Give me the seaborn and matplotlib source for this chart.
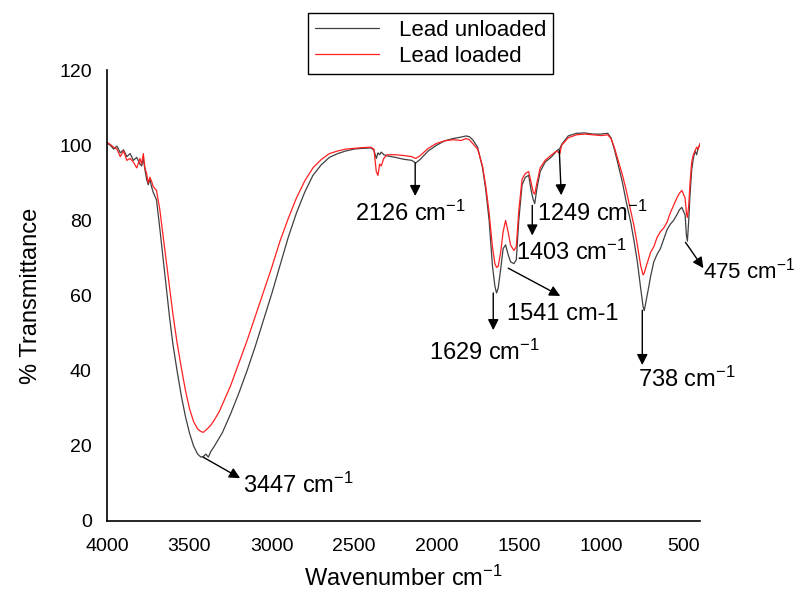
import numpy as np
import pandas as pd
import matplotlib
matplotlib.use("Agg")
import matplotlib.pyplot as plt
import seaborn as sns

# FTIR spectra (wavenumber in cm-1, % transmittance)
wavenumber = [
    4000, 3980, 3960, 3940, 3920, 3900, 3880, 3860, 3840, 3820, 3800, 3790, 3780, 3770,
    3760, 3750, 3740, 3730, 3720, 3700, 3680, 3660, 3640, 3620, 3600, 3575, 3550, 3525,
    3500, 3475, 3450, 3430, 3415, 3400, 3385, 3370, 3350, 3320, 3300, 3250, 3200, 3150,
    3100, 3050, 3000, 2950, 2900, 2850, 2800, 2750, 2700, 2650, 2600, 2550, 2500, 2450,
    2400, 2380, 2365, 2355, 2345, 2335, 2320, 2300, 2250, 2200, 2150, 2126, 2100, 2050,
    2000, 1950, 1900, 1850, 1820, 1800, 1780, 1750, 1720, 1700, 1680, 1660, 1645, 1635,
    1625, 1610, 1595, 1580, 1565, 1550, 1530, 1515, 1500, 1480, 1460, 1440, 1425, 1412,
    1403, 1390, 1370, 1340, 1300, 1270, 1250, 1240, 1200, 1150, 1100, 1050, 1000, 960,
    940, 920, 900, 870, 850, 820, 800, 780, 760, 745, 738, 725, 710, 700, 680, 660,
    640, 620, 600, 580, 560, 540, 525, 510, 500, 490, 482, 476, 468, 460, 450, 440,
    430, 420, 410, 400,
]
lead_unloaded = [
    100.6, 100.0, 99.0, 99.8, 98.0, 98.8, 97.0, 97.8, 96.0, 96.8, 95.0, 94.5, 96.5, 93.5,
    91.0, 89.5, 91.0, 89.0, 87.5, 85.5, 78.0, 70.0, 62.0, 54.0, 47.0, 40.0, 33.5, 28.0,
    23.5, 20.0, 17.8, 17.0, 17.2, 17.8, 17.0, 18.5, 19.8, 22.0, 23.5, 28.5, 34.0, 40.0,
    46.5, 53.5, 60.5, 68.0, 75.5, 82.0, 87.5, 92.0, 94.8, 96.8, 97.8, 98.5, 99.0, 99.2,
    99.3, 98.8, 96.5, 98.0, 97.5, 98.2, 97.5, 97.2, 96.8, 96.3, 96.0, 95.3, 96.2, 98.5,
    100.0, 101.2, 101.8, 102.2, 102.5, 102.3, 101.5, 99.5, 94.0, 88.0, 80.0, 68.0, 62.5, 60.7,
    62.0, 67.0, 72.5, 73.5, 71.0, 69.0, 68.5, 69.5, 80.0, 89.5, 91.5, 92.0, 88.0, 85.5,
    84.5, 88.5, 93.0, 95.5, 97.0, 98.5, 99.2, 100.2, 102.5, 103.2, 103.3, 103.0, 103.0, 103.2,
    102.0, 99.0, 95.5, 90.0, 85.5, 79.5, 74.5, 69.0, 62.0, 57.0, 56.0, 59.0, 62.5, 65.0,
    69.0, 71.0, 72.5, 75.0, 77.5, 79.0, 80.0, 81.5, 82.8, 83.5, 82.5, 81.5, 76.0, 74.5,
    80.0, 87.0, 93.5, 96.5, 98.5, 97.5, 99.5, 100.0,
]
lead_loaded = [
    100.8, 100.2, 99.5, 99.0, 97.0, 98.5, 96.0, 96.5, 95.5, 94.0, 96.5, 95.0, 97.8, 94.0,
    92.5, 90.0, 91.5, 90.5, 89.0, 88.0, 83.0, 76.0, 69.0, 62.0, 55.0, 47.5, 41.0, 35.0,
    30.0, 26.5, 24.5, 23.8, 23.6, 24.2, 24.8, 25.5, 26.8, 29.0, 31.0, 36.0, 42.0, 48.0,
    54.5, 61.0, 67.5, 74.5, 80.5, 86.0, 90.5, 94.0, 96.2, 97.8, 98.5, 99.0, 99.2, 99.4,
    99.5, 99.0, 93.0, 92.0, 95.0, 94.5, 96.5, 97.5, 97.5, 97.3, 97.0, 96.5, 97.2, 99.2,
    100.5, 101.2, 101.5, 101.3, 101.8, 101.5, 100.5, 99.0, 94.5, 89.0, 82.0, 73.0, 68.5, 67.5,
    67.8, 71.5, 77.0, 80.0, 77.0, 73.5, 72.0, 73.0, 82.5, 91.0, 92.5, 93.0, 90.0, 87.5,
    87.0, 90.0, 94.0, 96.0, 97.5, 98.5, 97.8, 100.0, 102.0, 102.8, 103.0, 102.8, 102.6, 102.8,
    101.8, 99.5, 96.5, 92.0, 88.5, 82.5, 78.5, 73.5, 68.0, 65.5, 66.0, 68.0, 70.0, 71.5,
    73.0, 75.5, 77.0, 78.0, 79.5, 82.0, 84.0, 86.0, 87.2, 88.0, 87.0, 86.0, 82.0, 80.8,
    84.0, 90.0, 95.5, 97.5, 98.5, 99.5, 99.0, 100.5,
]

# peak annotations: label, arrow tail (x, y), arrow head (x, y), text position, alignment
peak_labels = ["3447 cm$^{\\mathregular{-1}}$", "2126 cm$^{\\mathregular{-1}}$",
               "1629 cm$^{\\mathregular{-1}}$", "1541 cm-1",
               "1403 cm$^{\\mathregular{-1}}$", "1249 cm$^{\\mathregular{-1}}$",
               "738 cm$^{\\mathregular{-1}}$", "475 cm$^{\\mathregular{-1}}$"]
peak_tail = [(3417, 17.0), (2129, 95.3), (1655, 60.7), (1564, 67.3),
             (1418, 84.0), (1254, 98.7), (750, 56.1), (488, 74.2)]
peak_head = [(3192, 11.4), (2129, 86.5), (1655, 50.8), (1248, 59.9),
             (1418, 76.0), (1242, 86.7), (750, 41.5), (379, 67.3)]
peak_text = [(3174, 9.6), (2159, 82.0), (1710, 44.8), (1570, 55.0),
             (1515, 71.6), (1388, 82.0), (774, 37.8), (380, 66.6)]
peak_ha = ["left", "center", "center", "left", "left", "left", "left", "left"]
peak_size = [17, 17, 17, 17, 17, 17, 17, 16]

sns.set_style("white")
plt.rcParams["font.family"] = ["Liberation Sans", "DejaVu Sans"]
plt.rcParams["mathtext.fontset"] = "custom"
plt.rcParams["mathtext.rm"] = "Liberation Sans"
plt.rcParams["mathtext.it"] = "Liberation Sans"
plt.rcParams["mathtext.bf"] = "Liberation Sans"
plt.rcParams["text.color"] = "black"
plt.rcParams["axes.labelcolor"] = "black"
plt.rcParams["xtick.color"] = "black"
plt.rcParams["ytick.color"] = "black"

df = pd.DataFrame({
    "wavenumber": wavenumber * 2,
    "transmittance": lead_unloaded + lead_loaded,
    "sample": ["Lead unloaded"] * len(wavenumber) + ["Lead loaded"] * len(wavenumber),
})

fig = plt.figure(figsize=(7.99, 5.90), dpi=100)
ax = fig.add_axes([0.134, 0.117, 0.742, 0.764])

sns.lineplot(data=df, x="wavenumber", y="transmittance", hue="sample",
             palette={"Lead unloaded": "#404040", "Lead loaded": "#ff2020"},
             hue_order=["Lead unloaded", "Lead loaded"],
             linewidth=0.9, ax=ax, legend=True)

ax.set_xlim(4000, 400)
ax.set_ylim(0, 120)
ax.set_xticks([4000, 3500, 3000, 2500, 2000, 1500, 1000, 500])
ax.set_yticks([0, 20, 40, 60, 80, 100, 120])
ax.tick_params(axis="both", length=0, labelsize=14)
ax.tick_params(axis="x", pad=12)
ax.tick_params(axis="y", pad=11)
for side in ["top", "right"]:
    ax.spines[side].set_visible(False)
for side in ["left", "bottom"]:
    ax.spines[side].set_color("black")
    ax.spines[side].set_linewidth(1.2)

ax.set_xlabel("Wavenumber cm$^{\\mathregular{-1}}$", fontsize=17, labelpad=8)
ax.set_ylabel("% Transmittance", fontsize=17, labelpad=12)

for label, tail, head, pos, ha, size in zip(peak_labels, peak_tail, peak_head,
                                            peak_text, peak_ha, peak_size):
    ax.annotate("", xy=head, xytext=tail, annotation_clip=False,
                arrowprops=dict(arrowstyle="-|>", color="black", lw=1.0,
                                mutation_scale=16, shrinkA=0, shrinkB=0))
    ax.text(pos[0], pos[1], label, ha=ha, va="center", fontsize=size, clip_on=False)

handles, labels = ax.get_legend_handles_labels()
ax.legend(handles, labels, loc="upper center", bbox_to_anchor=(0.539, 0.978),
          bbox_transform=fig.transFigure, fontsize=16, frameon=True, fancybox=False,
          edgecolor="black", framealpha=1, borderpad=0.3, labelspacing=0.25,
          handlelength=2.9, handletextpad=0.9, borderaxespad=0)
ax.get_legend().get_frame().set_linewidth(1.0)

fig.savefig("out.png", dpi=100)
